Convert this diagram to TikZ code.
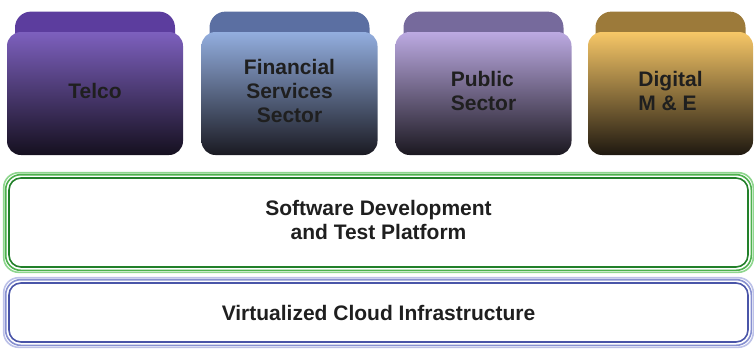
\documentclass[tikz,border=0pt]{standalone}
\usepackage{fontspec}
\setmainfont{Liberation Sans}
\usepackage{tikz}
\usetikzlibrary{positioning,backgrounds,fit}

\definecolor{telcotop}{HTML}{7D60BE}
\definecolor{telcomid}{HTML}{6845B0}
\definecolor{telcobot}{HTML}{15101F}
\definecolor{telcotab}{HTML}{5C3D9E}
\definecolor{fintop}{HTML}{93AEDF}
\definecolor{finmid}{HTML}{819ACC}
\definecolor{finbot}{HTML}{1A1A22}
\definecolor{fintab}{HTML}{5B6FA2}
\definecolor{pubtop}{HTML}{BCAAE2}
\definecolor{pubmid}{HTML}{AA95CA}
\definecolor{pubbot}{HTML}{1B1820}
\definecolor{pubtab}{HTML}{766A9C}
\definecolor{digtop}{HTML}{F7C767}
\definecolor{digmid}{HTML}{E6B65C}
\definecolor{digbot}{HTML}{1E1810}
\definecolor{digtab}{HTML}{9C7A3A}
\definecolor{greenin}{HTML}{22802A}
\definecolor{greenmid}{HTML}{4DB04D}
\definecolor{greenout}{HTML}{8ED68E}
\definecolor{bluein}{HTML}{4A55A8}
\definecolor{bluemid}{HTML}{8790D0}
\definecolor{blueout}{HTML}{BCC1E8}

\begin{document}
\begin{tikzpicture}[
    x=1pt, y=-1pt,
    font=\bfseries\fontsize{21}{24}\selectfont,
    sector/.style={
		rectangle,
		rounded corners=14pt,
		minimum width=176pt,
		minimum height=123pt,
		inner sep=0pt,
		text=black!88
	},
	tab/.style={
		rectangle,
		rounded corners=16pt,
		minimum width=160pt,
		minimum height=40pt
	},
	layer/.style={
		rectangle,
		rounded corners=12pt,
		minimum width=739pt,
		line width=1.6pt,
		text=black!88
	},
	rim/.style={
		rounded corners=15pt,
		line width=1.6pt
	}
  ]
    \useasboundingbox (0,0) rectangle (754,348);

    % We start by placing the sectors

  \node [sector, top color=telcotop, middle color=telcomid, bottom color=telcobot] (telco) at (95,93.5)
 {%
 \begin{tabular}{c}
  Telco
 \end{tabular}
 };

  \node [sector, top color=fintop, middle color=finmid, bottom color=finbot] (fin) at (289.5,93.5)
 {%
 \begin{tabular}{c}
  Financial\\
  Services\\
  Sector
 \end{tabular}
 };

  \node [sector, top color=pubtop, middle color=pubmid, bottom color=pubbot] (pub) at (483.5,93.5)
 {%
 \begin{tabular}{l}
  Public\\
  Sector
 \end{tabular}
 };

  \node [sector, minimum width=165pt, top color=digtop, middle color=digmid, bottom color=digbot] (dig) at (670.5,93.5)
 {%
 \begin{tabular}{l}
  Digital\\
  M \& E
 \end{tabular}
 };

 % tabs behind the sectors
 \begin{scope}[on background layer]
  \node [tab, fill=telcotab, above=-20pt of telco.north] (telcotab) {};
  \node [tab, fill=fintab, above=-20pt of fin.north] (fintab) {};
  \node [tab, fill=pubtab, above=-20pt of pub.north] (pubtab) {};
  \node [tab, minimum width=150pt, fill=digtab, above=-20pt of dig.north] (digtab) {};
 \end{scope}

 % the two platform layers
  \node [layer, draw=greenin, minimum height=89pt] (platform) at (378.5,222.5)
 {%
 \begin{tabular}{c}
  Software Development\\
  and Test Platform
 \end{tabular}
 };

  \node [layer, draw=bluein, minimum height=59pt] (cloud) at (378.5,312.5)
 {Virtualized Cloud Infrastructure};

 \draw [rim, draw=greenmid] ([shift={(-2.5,-2.5)}]platform.north west) rectangle ([shift={(2.5,2.5)}]platform.south east);
 \draw [rim, draw=greenout] ([shift={(-4.5,-4.5)}]platform.north west) rectangle ([shift={(4.5,4.5)}]platform.south east);
 \draw [rim, draw=bluemid] ([shift={(-2.5,-2.5)}]cloud.north west) rectangle ([shift={(2.5,2.5)}]cloud.south east);
 \draw [rim, draw=blueout] ([shift={(-4.5,-4.5)}]cloud.north west) rectangle ([shift={(4.5,4.5)}]cloud.south east);

\end{tikzpicture}
\end{document}
